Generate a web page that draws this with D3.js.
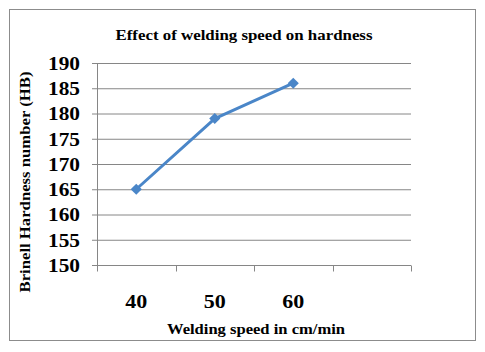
<!DOCTYPE html>
<html>
<head>
<meta charset="utf-8">
<script src="https://cdn.jsdelivr.net/npm/d3@7"></script>
<style>
  body { margin: 0; background: #fff; }
  text { font-family: "Liberation Serif", "Times New Roman", serif; font-weight: bold; fill: #000; }
</style>
</head>
<body>
<script>
// chart data
const categories = ['40', '50', '60', ''];
const speeds = ['40', '50', '60'];
const hardness = [165, 179, 186];
const yTicks = [150, 155, 160, 165, 170, 175, 180, 185, 190];

const W = 485, H = 352;
const plot = { left: 97, right: 411, top: 63, bottom: 265 };

const svg = d3.select('body').append('svg')
    .attr('width', W)
    .attr('height', H);

// outer frame
svg.append('rect')
    .attr('x', 9.5).attr('y', 9.5)
    .attr('width', 466).attr('height', 331)
    .attr('fill', '#fff')
    .attr('stroke', '#8c8c8c')
    .attr('stroke-width', 1);

const x = d3.scaleBand()
    .domain(categories)
    .range([plot.left, plot.right]);

const y = d3.scaleLinear()
    .domain([150, 190])
    .range([plot.bottom, plot.top]);

// gridlines + y axis
const yAxis = svg.append('g')
    .attr('transform', 'translate(' + plot.left + ',0)')
    .call(d3.axisLeft(y).tickValues(yTicks).tickSize(5).tickPadding(12).tickSizeOuter(0));
yAxis.select('.domain').remove();
yAxis.selectAll('.tick line').attr('stroke', '#868686');
yAxis.selectAll('.tick').append('line')
    .attr('x1', 0).attr('x2', plot.right - plot.left)
    .attr('stroke', '#868686');
yAxis.selectAll('.tick text')
    .attr('font-size', 19)
    .attr('dy', '0.34em')
    .attr('textLength', 32)
    .attr('lengthAdjust', 'spacingAndGlyphs');

svg.append('line')
    .attr('x1', plot.left + 0.5).attr('x2', plot.left + 0.5)
    .attr('y1', plot.top).attr('y2', plot.bottom + 6)
    .attr('stroke', '#868686');

// x axis with ticks at band edges
const xAxis = svg.append('g')
    .attr('transform', 'translate(0,' + (plot.bottom + 0.5) + ')');
xAxis.append('line')
    .attr('x1', plot.left).attr('x2', plot.right)
    .attr('stroke', '#868686');
const edges = categories.map(c => x(c)).concat([x.range()[1]]);
xAxis.selectAll('line.edge')
    .data(edges)
    .enter().append('line')
    .attr('class', 'edge')
    .attr('x1', d => Math.round(d) + 0.5).attr('x2', d => Math.round(d) + 0.5)
    .attr('y1', 0).attr('y2', 6)
    .attr('stroke', '#868686');
xAxis.selectAll('text')
    .data(categories.filter(c => c !== ''))
    .enter().append('text')
    .attr('x', d => x(d) + x.bandwidth() / 2)
    .attr('y', 42)
    .attr('text-anchor', 'middle')
    .attr('font-size', 19)
    .attr('textLength', 22)
    .attr('lengthAdjust', 'spacingAndGlyphs')
    .text(d => d);

// series
const cx = d => x(d) + x.bandwidth() / 2;
const pts = speeds.map((s, i) => [cx(s), y(hardness[i])]);

svg.append('path')
    .attr('d', d3.line()(pts))
    .attr('fill', 'none')
    .attr('stroke', '#4a86c8')
    .attr('stroke-width', 3)
    .attr('stroke-linejoin', 'round');

svg.selectAll('path.marker')
    .data(pts)
    .enter().append('path')
    .attr('class', 'marker')
    .attr('d', d3.symbol().type(d3.symbolSquare).size(62))
    .attr('transform', d => 'translate(' + d[0] + ',' + d[1] + ') rotate(45)')
    .attr('fill', '#4a86c8');

// titles
svg.append('text')
    .attr('x', 244).attr('y', 40)
    .attr('text-anchor', 'middle')
    .attr('font-size', 14)
    .attr('textLength', 257)
    .attr('lengthAdjust', 'spacingAndGlyphs')
    .text('Effect of welding speed on hardness');

svg.append('text')
    .attr('x', 256).attr('y', 334)
    .attr('text-anchor', 'middle')
    .attr('font-size', 14)
    .attr('textLength', 178)
    .attr('lengthAdjust', 'spacingAndGlyphs')
    .text('Welding speed in cm/min');

svg.append('text')
    .attr('transform', 'translate(30,182) rotate(-90)')
    .attr('text-anchor', 'middle')
    .attr('font-size', 15)
    .attr('textLength', 221)
    .attr('lengthAdjust', 'spacingAndGlyphs')
    .text('Brinell Hardness number (HB)');
</script>
</body>
</html>
